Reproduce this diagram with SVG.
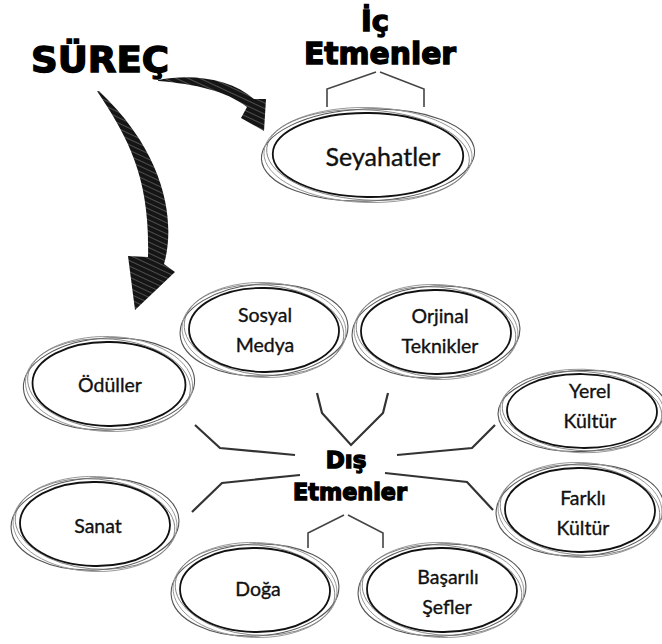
<svg xmlns="http://www.w3.org/2000/svg" xmlns:xlink="http://www.w3.org/1999/xlink" width="662" height="644" viewBox="0 0 662 644">
<style>
  .title { font-family: "DejaVu Sans", "Liberation Sans", sans-serif; font-weight: 900; fill: #000; stroke: #000; stroke-width: 1.4; text-anchor: middle; }
  .lbl { font-family: Lato, "Open Sans", "Liberation Sans", sans-serif; font-size: 19.5px; fill: #111; stroke: #111; stroke-width: 0.35; text-anchor: middle; }
  .big { font-size: 25px; }
  .conn { fill: none; stroke: #333; stroke-width: 2.2; stroke-linejoin: miter; }
  .brk { fill: none; stroke: #444; stroke-width: 1.6; }
  .r1 { fill: none; stroke: #555; stroke-width: 1.1; vector-effect: non-scaling-stroke; }
  .r2 { fill: none; stroke: #9a9a9a; stroke-width: 1; vector-effect: non-scaling-stroke; }
  .r3 { fill: none; stroke: #777; stroke-width: 0.9; vector-effect: non-scaling-stroke; }
  .r4 { fill: #fff; stroke: #111; stroke-width: 1.8; vector-effect: non-scaling-stroke; }
</style>
<defs>
  <pattern id="hatch" width="5" height="5" patternUnits="userSpaceOnUse" patternTransform="rotate(25)">
    <rect width="5" height="5" fill="#151515"/>
    <line x1="0" y1="1.5" x2="5" y2="1.5" stroke="#fff" stroke-opacity="0.35" stroke-width="0.7"/>
  </pattern>
  <g id="ring">
    <ellipse rx="84" ry="46" transform="rotate(-3)" class="r1"/>
    <ellipse rx="82" ry="47.5" transform="rotate(2)" class="r2"/>
    <ellipse rx="80" ry="45" transform="rotate(5)" class="r3"/>
    <ellipse rx="75" ry="42" transform="rotate(1)" class="r4"/>
  </g>
</defs>
<rect width="662" height="644" fill="#fff"/>

<g id="titles">
  <text class="title" x="100" y="72" font-size="36" textLength="138" lengthAdjust="spacingAndGlyphs">SÜREÇ</text>
  <text class="title" x="375" y="31" font-size="29">İç</text>
  <text class="title" x="380" y="64" font-size="30" textLength="152" lengthAdjust="spacingAndGlyphs">Etmenler</text>
  <text class="title" x="346" y="468" font-size="23">Dış</text>
  <text class="title" x="350" y="500" font-size="23" textLength="114" lengthAdjust="spacingAndGlyphs">Etmenler</text>
</g>

<g id="arrows">
  <path d="M158,80 C195,73 232,80 254,99 L266,99 L264,131 L241,118 L247,107 C226,91 196,84 158,81 Z" fill="url(#hatch)"/>
  <path d="M97,91 C130,140 150,180 148,257 L128,256 L135,310 L175,272 L164,264 C174,230 172,160 99,91 Z" fill="url(#hatch)"/>
</g>

<g id="connectors">
  <path class="brk" d="M327,107 V89 L376,72"/>
  <path class="brk" d="M380,72 L424,89 V107"/>
  <path class="conn" d="M317,393 L322,413 L351,445 L383,413 L388,393"/>
  <path class="conn" d="M195,425 L220,448 L295,455"/>
  <path class="conn" d="M495,425 L472,448 L397,455"/>
  <path class="conn" d="M300,475 L222,483 L192,512"/>
  <path class="conn" d="M385,473 L467,482 L493,510"/>
  <path class="brk" d="M308,548 V533 L344,515"/>
  <path class="brk" d="M348,515 L383,533 V548"/>
</g>

<g id="seyahatler">
  <use href="#ring" transform="translate(368,155) scale(1.27,1)"/>
  <text class="lbl big" x="383" y="166">Seyahatler</text>
</g>
<g id="sosyal-medya">
  <use href="#ring" transform="translate(264,330)"/>
  <text class="lbl" x="265" y="322">Sosyal</text>
  <text class="lbl" x="265" y="352">Medya</text>
</g>
<g id="orjinal-teknikler">
  <use href="#ring" transform="translate(436,332)"/>
  <text class="lbl" x="440" y="323">Orjinal</text>
  <text class="lbl" x="440" y="353">Teknikler</text>
</g>
<g id="oduller">
  <use href="#ring" transform="translate(109,384) scale(1.02,1)"/>
  <text class="lbl" x="110" y="392">Ödüller</text>
</g>
<g id="yerel-kultur">
  <use href="#ring" transform="translate(582,411) scale(1,0.88)"/>
  <text class="lbl" x="590" y="398">Yerel</text>
  <text class="lbl" x="590" y="428">Kültür</text>
</g>
<g id="sanat">
  <use href="#ring" transform="translate(95,524)"/>
  <text class="lbl" x="98" y="533">Sanat</text>
</g>
<g id="farkli-kultur">
  <use href="#ring" transform="translate(580,510)"/>
  <text class="lbl" x="583" y="505">Farklı</text>
  <text class="lbl" x="583" y="535">Kültür</text>
</g>
<g id="doga">
  <use href="#ring" transform="translate(255,590)"/>
  <text class="lbl" x="258" y="596">Doğa</text>
</g>
<g id="basarili-sefler">
  <use href="#ring" transform="translate(442,590)"/>
  <text class="lbl" x="448" y="584">Başarılı</text>
  <text class="lbl" x="447" y="614">Şefler</text>
</g>
</svg>
